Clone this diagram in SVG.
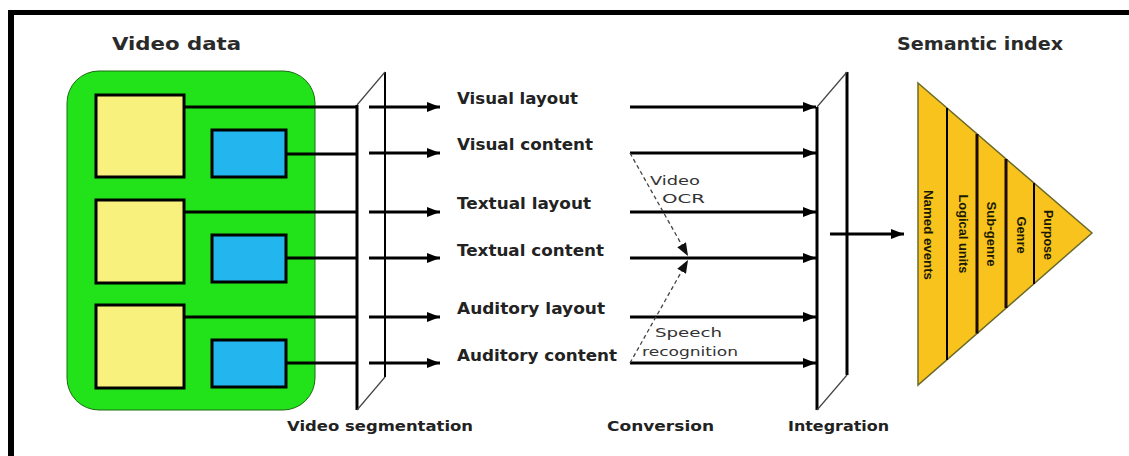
<svg xmlns="http://www.w3.org/2000/svg" width="1129" height="456" viewBox="0 0 1129 456">
<defs>
<marker id="ah" markerWidth="14" markerHeight="10" refX="13" refY="5" orient="auto" markerUnits="userSpaceOnUse">
<path d="M0,0 L13,5 L0,10 z" fill="#000"/>
</marker>
<marker id="ahd" markerWidth="14" markerHeight="10" refX="13" refY="5" orient="auto" markerUnits="userSpaceOnUse">
<path d="M0,0 L13,5 L0,10 z" fill="#111"/>
</marker>
</defs>
<style>
.title{font-family:"DejaVu Sans","Liberation Sans",sans-serif;font-weight:bold;font-size:18px;fill:#2a2a2a}
.lbl{font-family:"DejaVu Sans","Liberation Sans",sans-serif;font-weight:bold;font-size:15px;fill:#222}
.blbl{font-family:"DejaVu Sans","Liberation Sans",sans-serif;font-weight:bold;font-size:14px;fill:#222}
.small{font-family:"DejaVu Sans","Liberation Sans",sans-serif;font-size:13px;fill:#333}
.rot{font-family:"Liberation Sans",Arial,sans-serif;font-weight:bold;font-size:12px;fill:#1a1a00}
.box{stroke:#000;stroke-width:3}
.ln{stroke:#000;stroke-width:3;fill:none}
.thin{stroke:#444;stroke-width:1.2;fill:none}
.dash{stroke:#444;stroke-width:1.3;stroke-dasharray:4,3;fill:none}
</style>
<rect width="1129" height="456" fill="#fff"/>
<g id="frame">
<line x1="8" y1="12.5" x2="1129" y2="12.5" stroke="#000" stroke-width="5"/>
<line x1="11" y1="10" x2="11" y2="456" stroke="#000" stroke-width="6"/>
</g>
<text class="title" x="112" y="50" textLength="129" lengthAdjust="spacingAndGlyphs">Video data</text>
<text class="title" x="897" y="50" textLength="166" lengthAdjust="spacingAndGlyphs">Semantic index</text>
<g id="video-data">
<rect x="67" y="71" width="248" height="339" rx="32" fill="#22E31A" stroke="#1a6a10" stroke-width="1"/>
<rect class="box" x="96" y="95" width="88" height="82" fill="#F9F17E"/>
<rect class="box" x="212" y="130" width="74" height="47" fill="#22B5EE"/>
<rect class="box" x="96" y="200" width="88" height="83" fill="#F9F17E"/>
<rect class="box" x="212" y="235" width="74" height="47" fill="#22B5EE"/>
<rect class="box" x="96" y="305" width="88" height="83" fill="#F9F17E"/>
<rect class="box" x="212" y="340" width="74" height="47" fill="#22B5EE"/>
</g>
<g id="segmentation">
<line class="ln" x1="357" y1="105" x2="357" y2="410"/>
<line x1="385" y1="72" x2="385" y2="377" stroke="#000" stroke-width="2"/>
<line class="thin" x1="357" y1="105" x2="385" y2="72"/>
<line class="thin" x1="357" y1="410" x2="385" y2="377"/>
</g>
<g id="integration">
<line class="ln" x1="817" y1="107" x2="817" y2="410"/>
<line class="ln" x1="847" y1="72" x2="847" y2="375"/>
<line class="thin" x1="817" y1="107" x2="847" y2="72"/>
<line class="thin" x1="817" y1="410" x2="847" y2="375"/>
</g>
<g id="semantic-index">
<polygon points="918,83 1092,233 918,385" fill="#F7C31C" stroke="#6b6a2a" stroke-width="1.5"/>
<line x1="947" y1="108" x2="947" y2="360" stroke="#000" stroke-width="2"/>
<line x1="977" y1="134" x2="977" y2="333.5" stroke="#1a0a00" stroke-width="3"/>
<line x1="1006" y1="159" x2="1006" y2="308" stroke="#1a0a00" stroke-width="3"/>
<line x1="1034" y1="183" x2="1034" y2="284" stroke="#000" stroke-width="2"/>
<text class="rot" text-anchor="middle" transform="translate(928,235) rotate(90)" y="4" textLength="90" lengthAdjust="spacingAndGlyphs">Named events</text>
<text class="rot" text-anchor="middle" transform="translate(963,234) rotate(90)" y="4" textLength="79" lengthAdjust="spacingAndGlyphs">Logical units</text>
<text class="rot" text-anchor="middle" transform="translate(991,234) rotate(90)" y="4" textLength="65" lengthAdjust="spacingAndGlyphs">Sub-genre</text>
<text class="rot" text-anchor="middle" transform="translate(1021,235) rotate(90)" y="4" textLength="37" lengthAdjust="spacingAndGlyphs">Genre</text>
<text class="rot" text-anchor="middle" transform="translate(1048,235) rotate(90)" y="4" textLength="50" lengthAdjust="spacingAndGlyphs">Purpose</text>
</g>
<g id="labels">
<text class="lbl" x="457" y="104" textLength="121" lengthAdjust="spacingAndGlyphs">Visual layout</text>
<text class="lbl" x="457" y="150" textLength="136" lengthAdjust="spacingAndGlyphs">Visual content</text>
<text class="lbl" x="457" y="209" textLength="134" lengthAdjust="spacingAndGlyphs">Textual layout</text>
<text class="lbl" x="457" y="256" textLength="147" lengthAdjust="spacingAndGlyphs">Textual content</text>
<text class="lbl" x="457" y="314" textLength="148" lengthAdjust="spacingAndGlyphs">Auditory layout</text>
<text class="lbl" x="457" y="361" textLength="160" lengthAdjust="spacingAndGlyphs">Auditory content</text>
<text class="blbl" x="287" y="431" textLength="186" lengthAdjust="spacingAndGlyphs">Video segmentation</text>
<text class="blbl" x="607" y="431" textLength="107" lengthAdjust="spacingAndGlyphs">Conversion</text>
<text class="blbl" x="788" y="431" textLength="101" lengthAdjust="spacingAndGlyphs">Integration</text>
<text class="small" x="650" y="185" textLength="50" lengthAdjust="spacingAndGlyphs">Video</text>
<text class="small" x="662" y="203" textLength="43" lengthAdjust="spacingAndGlyphs">OCR</text>
<text class="small" x="655" y="337" textLength="67" lengthAdjust="spacingAndGlyphs">Speech</text>
<text class="small" x="642" y="356" textLength="96" lengthAdjust="spacingAndGlyphs">recognition</text>
</g>
<g id="connectors">
<line class="ln" x1="184" y1="107" x2="357" y2="107"/>
<line class="ln" x1="286" y1="154" x2="357" y2="154"/>
<line class="ln" x1="184" y1="212" x2="357" y2="212"/>
<line class="ln" x1="286" y1="258" x2="357" y2="258"/>
<line class="ln" x1="184" y1="317" x2="357" y2="317"/>
<line class="ln" x1="286" y1="363" x2="357" y2="363"/>
<line class="ln" x1="369" y1="107" x2="440" y2="107" marker-end="url(#ah)"/>
<line class="ln" x1="369" y1="153" x2="440" y2="153" marker-end="url(#ah)"/>
<line class="ln" x1="369" y1="212" x2="440" y2="212" marker-end="url(#ah)"/>
<line class="ln" x1="369" y1="258" x2="440" y2="258" marker-end="url(#ah)"/>
<line class="ln" x1="369" y1="317" x2="440" y2="317" marker-end="url(#ah)"/>
<line class="ln" x1="369" y1="363" x2="440" y2="363" marker-end="url(#ah)"/>
<line class="ln" x1="630" y1="107" x2="816" y2="107" marker-end="url(#ah)"/>
<line class="ln" x1="630" y1="153" x2="816" y2="153" marker-end="url(#ah)"/>
<line class="ln" x1="630" y1="212" x2="816" y2="212" marker-end="url(#ah)"/>
<line class="ln" x1="630" y1="258" x2="816" y2="258" marker-end="url(#ah)"/>
<line class="ln" x1="630" y1="317" x2="816" y2="317" marker-end="url(#ah)"/>
<line class="ln" x1="630" y1="363" x2="816" y2="363" marker-end="url(#ah)"/>
<line class="dash" x1="630" y1="153" x2="688" y2="256" marker-end="url(#ahd)"/>
<line class="dash" x1="630" y1="363" x2="688" y2="260" marker-end="url(#ahd)"/>
<line class="ln" x1="830" y1="234" x2="904" y2="234" marker-end="url(#ah)"/>
</g>
</svg>
